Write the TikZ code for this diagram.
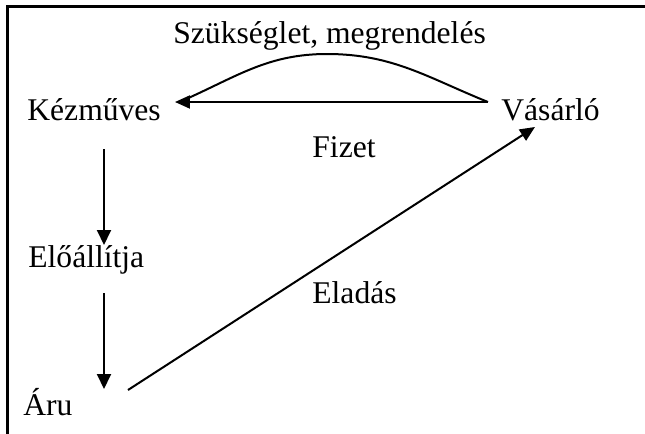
\documentclass[tikz,border=0pt]{standalone}
\usepackage{fontspec}
\setmainfont{Liberation Serif}
\usetikzlibrary{arrows.meta}
\begin{document}
\begin{tikzpicture}[x=0.5pt,y=-0.5pt,
  lbl/.style={anchor=base west,inner sep=0pt,font=\fontsize{15.8}{19}\selectfont},
  conn/.style={line width=1pt},
  harr/.style={conn,-{Triangle[length=7.5pt,width=6.5pt]}},
  varr/.style={conn,-{Triangle[length=7.5pt,width=7pt]}},
  frame/.style={line width=1.5pt}]
\useasboundingbox (0,0) rectangle (645,434);
% frame
\coordinate (fTL) at (8,6);
\coordinate (fTR) at (646,6);
\coordinate (fBL) at (8,435);
\draw[frame] (fTR) -- (fTL) -- (fBL);
% labels
\node[lbl] (szuk) at (173,43) {Szükséglet, megrendelés};
\node[lbl] (kez) at (27,120) {Kézműves};
\node[lbl] (vas) at (501,120) {Vásárló};
\node[lbl] (fiz) at (312,157) {Fizet};
\node[lbl] (elo) at (28,267) {Előállítja};
\node[lbl] (ela) at (312,303) {Eladás};
\node[lbl] (aru) at (23,415) {Áru};
% connector ends
\coordinate (vasL) at (488,102);
\coordinate (kezR) at (175,102);
\coordinate (kezRc) at (184,100);
\coordinate (peak) at (327,54);
\coordinate (kezB) at (104,149);
\coordinate (eloT) at (104,245);
\coordinate (eloB) at (104,293);
\coordinate (aruT) at (104,389);
\coordinate (aruR) at (128,390);
\coordinate (vasB) at (535,127);
% connectors
\draw[harr] (vasL) -- (kezR);
\draw[conn] (vasL) to[out=158,in=0] (peak) to[out=180,in=24] (kezRc);
\draw[varr] (kezB) -- (eloT);
\draw[varr] (eloB) -- (aruT);
\draw[harr] (aruR) -- (vasB);
\end{tikzpicture}
\end{document}
